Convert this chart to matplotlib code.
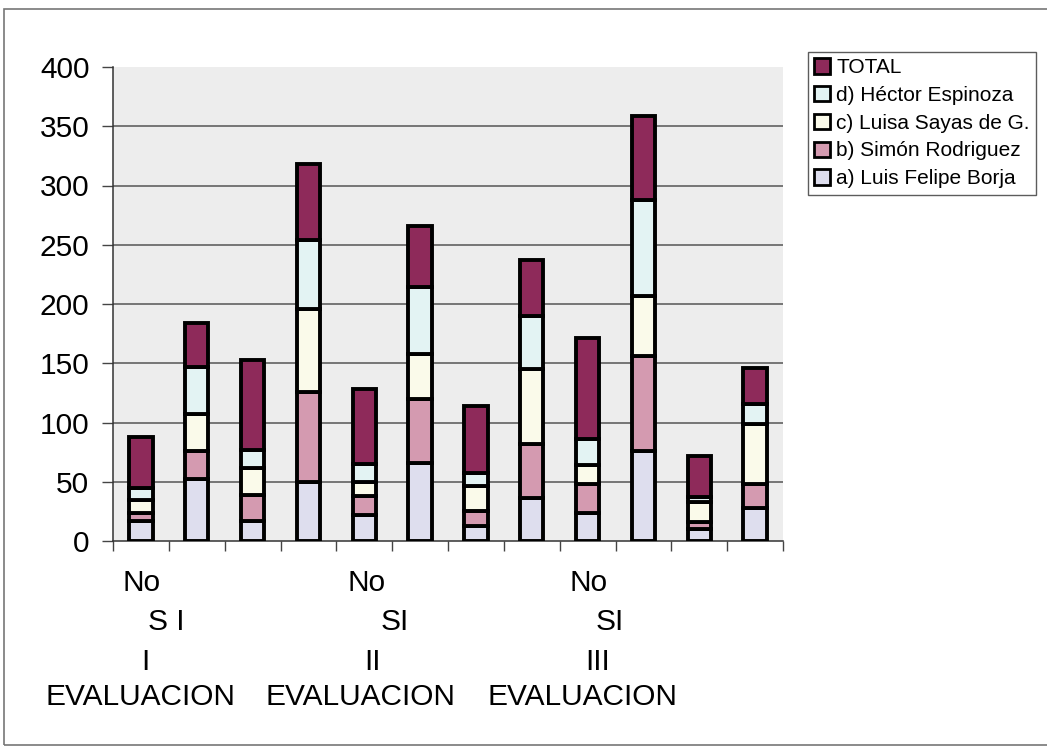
import matplotlib
matplotlib.use("Agg")
import matplotlib.pyplot as plt
from matplotlib.patches import Rectangle, Patch
import numpy as np

plt.rcParams['font.family'] = ['Liberation Sans', 'DejaVu Sans']

# ---- data ----
series_names = ["a) Luis Felipe Borja", "b) Simón Rodriguez", "c) Luisa Sayas de G.",
                "d) Héctor Espinoza", "TOTAL"]
a_borja   = [17, 52, 17, 50, 22, 66, 13, 36, 24, 76, 10, 28]
b_simon   = [7, 24, 22, 76, 16, 54, 12, 46, 24, 80, 6, 20]
c_luisa   = [11, 31, 23, 70, 12, 38, 21, 63, 16, 51, 17, 51]
d_hector  = [10, 40, 15, 58, 15, 56, 11, 45, 22, 81, 4, 17]
total     = [43, 37, 76, 64, 63, 52, 57, 47, 85, 71, 35, 30]
series_values = [a_borja, b_simon, c_luisa, d_hector, total]
group_labels = [["No", "S I", "I", "EVALUACION"],
                ["No", "SI", "II", "EVALUACION"],
                ["No", "SI", "III", "EVALUACION"]]
yticks = [0, 50, 100, 150, 200, 250, 300, 350, 400]

# ---- style ----
colors = ['#dedeee', '#d49ab0', '#fafaea', '#e3f3f3', '#8e2a5a']
W, H = 1047, 749
fig = plt.figure(figsize=(W / 100, H / 100), dpi=100)
ax = fig.add_axes([113 / W, 1 - 541 / H, (783 - 113) / W, (541 - 67) / H])
ax.set_facecolor('#ededed')

n = len(a_borja)
x = np.arange(n)
bottom = np.zeros(n)
for vals, col in zip(series_values, colors):
    ax.bar(x, vals, width=0.42, bottom=bottom, color=col, edgecolor='black',
           linewidth=2.8, zorder=3)
    bottom += np.array(vals)

ax.set_xlim(-0.5, n - 0.5)
ax.set_ylim(0, 400)
ax.set_yticks(yticks)
ax.set_yticklabels([str(v) for v in yticks], fontsize=21.5)
for v in yticks[1:-1]:
    ax.axhline(v, color='#555555', linewidth=1.1, zorder=1)

ax.set_xticks(np.arange(-0.5, n, 1.0))
ax.set_xticklabels([])
ax.tick_params(axis='x', direction='out', length=7, width=1, color='#444444')
ax.tick_params(axis='y', direction='out', length=8, width=1, color='#444444', pad=9)
for s in ['top', 'right']:
    ax.spines[s].set_visible(False)
for s in ['left', 'bottom']:
    ax.spines[s].set_color('#333333')
    ax.spines[s].set_linewidth(1.1)

# category group labels (multi-line, as in the original)
line_dy = [-42, -81, -121, -156]          # pixels below axis
line_dx = [[1, 25, 4, 0], [2, 30, 8, -4], [1, 22, 10, -5]]
for gi, lines in enumerate(group_labels):
    cx = gi * 4
    for li, txt in enumerate(lines):
        ax.annotate(txt, xy=(cx, 0), xycoords=('data', 'axes fraction'),
                    xytext=(line_dx[gi][li] * 0.72, line_dy[li] * 0.72),
                    textcoords='offset points', ha='center', va='center',
                    fontsize=21.5, annotation_clip=False)

# legend
handles = [Patch(facecolor=c, edgecolor='black', linewidth=2.0) for c in colors]
leg = fig.legend(handles[::-1], series_names[::-1], loc='upper left',
                 bbox_to_anchor=(808 / W, 1 - 52 / H), bbox_transform=fig.transFigure,
                 fontsize=15, frameon=True, fancybox=False, handlelength=0.75,
                 handleheight=0.75, handletextpad=0.3, labelspacing=0.42,
                 borderpad=0.3, borderaxespad=0)
leg.get_frame().set_edgecolor('#333333')
leg.get_frame().set_linewidth(1.0)

# outer chart border
fig.patches.append(Rectangle((4 / W, 1 - 745 / H), (1060 - 4) / W, (745 - 9) / H,
                             transform=fig.transFigure, fill=False,
                             edgecolor='#777777', linewidth=1.2))

fig.savefig('out.png', dpi=100, facecolor='white')
